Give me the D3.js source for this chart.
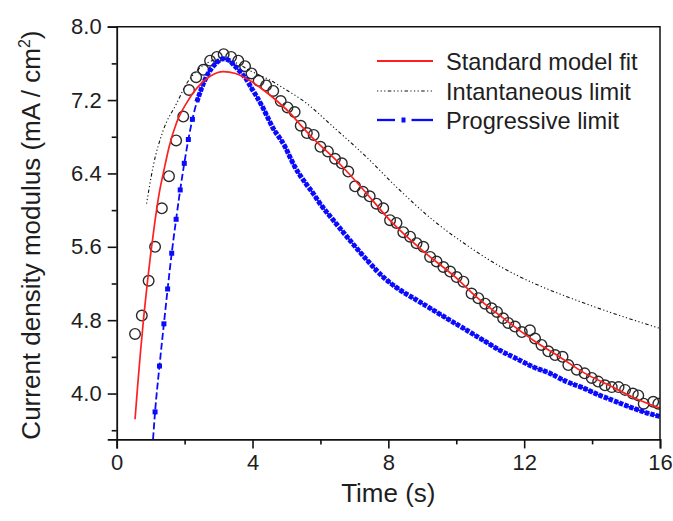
<!DOCTYPE html>
<html><head><meta charset="utf-8">
<script src="https://cdn.jsdelivr.net/npm/d3@7"></script>
<style>
body{margin:0;background:#fff}
svg{display:block}
text{font-family:"Liberation Sans",Arial,sans-serif;fill:#1e1e1e}
</style>
</head><body>
<svg id="c" width="673" height="521"></svg>
<script>
// ---- tick labels ----
const xTicks = [0, 4, 8, 12, 16];
const xMinor = [2, 6, 10, 14];
const yTicks = [4.0, 4.8, 5.6, 6.4, 7.2, 8.0];
const yMinor = [3.6, 4.4, 5.2, 6.0, 6.8, 7.6];

// ---- measured data (open circles) ----
const measT = [0.54,0.74,0.94,1.13,1.33,1.54,1.75,1.96,2.13,2.34,2.55,2.75,2.95,3.15,3.37,3.58,3.78,3.97,4.18,4.40,
  4.61,4.83,5.03,5.24,5.42,5.60,5.80,6.00,6.22,6.43,6.63,6.82,7.02,7.25,7.45,7.65,7.85,8.05,8.24,8.44,
  8.64,8.83,9.03,9.23,9.42,9.62,9.82,10.01,10.21,10.45,10.65,10.85,11.04,11.20,11.38,11.53,11.73,11.93,12.17,12.32,
  12.51,12.71,12.91,13.13,13.30,13.55,13.78,13.99,14.18,14.38,14.58,14.78,14.97,15.20,15.36,15.52,15.80,15.95];
const measV = [4.65,4.85,5.23,5.60,6.02,6.37,6.76,7.02,7.31,7.45,7.53,7.63,7.67,7.70,7.67,7.63,7.57,7.49,7.41,7.36,
  7.30,7.19,7.12,7.07,6.92,6.84,6.82,6.69,6.64,6.56,6.51,6.42,6.26,6.20,6.15,6.07,6.02,5.89,5.86,5.76,
  5.71,5.64,5.60,5.49,5.44,5.38,5.33,5.27,5.22,5.09,5.04,4.98,4.93,4.89,4.82,4.77,4.73,4.67,4.69,4.60,
  4.53,4.46,4.42,4.40,4.31,4.26,4.22,4.17,4.13,4.09,4.07,4.07,4.04,4.00,3.98,3.89,3.91,3.89];

// ---- standard model fit (red) ----
const fitT = [0.54,0.62,0.70,0.80,0.90,1.00,1.12,1.25,1.40,1.55,1.76,2.06,2.36,2.75,3.14,3.50,3.93,4.32,4.72,5.10,
  5.41,5.71,6.50,7.20,8.07,9.00,10.00,10.54,11.50,12.31,13.00,13.79,14.50,15.20,16.00];
const fitV = [3.72,4.10,4.45,4.85,5.20,5.52,5.86,6.18,6.45,6.70,6.95,7.17,7.33,7.46,7.51,7.49,7.41,7.31,7.19,7.06,
  6.93,6.81,6.53,6.25,5.88,5.56,5.26,5.07,4.79,4.57,4.41,4.22,4.09,3.96,3.84];

// ---- instantaneous limit (black dotted) ----
const instT = [0.88,1.07,1.37,1.76,2.06,2.36,2.75,3.10,3.50,3.93,4.50,5.00,5.50,6.40,7.38,8.30,9.35,10.30,11.32,12.30,13.30,14.50,16.00];
const instV = [6.07,6.47,6.87,7.16,7.38,7.52,7.62,7.65,7.61,7.52,7.42,7.31,7.19,6.90,6.57,6.23,5.88,5.62,5.38,5.20,5.05,4.89,4.71];

// ---- progressive limit (blue) ----
const progT = [1.07,1.13,1.26,1.39,1.50,1.62,1.75,1.87,1.99,2.11,2.23,2.36,2.50,2.65,2.80,2.95,3.14,3.32,3.48,3.68,
  3.83,3.97,4.12,4.30,4.46,4.61,4.81,4.96,5.10,5.25,5.40,5.59,5.79,5.99,6.38,6.87,7.36,7.85,8.34,8.83,
  9.32,9.81,10.31,10.80,11.29,11.78,12.27,12.76,13.25,13.74,14.23,14.72,15.21,15.70,16.00];
const progV = [3.50,3.80,4.30,4.76,5.14,5.53,5.90,6.22,6.51,6.77,6.99,7.18,7.33,7.46,7.55,7.61,7.65,7.63,7.57,7.49,
  7.42,7.33,7.24,7.12,7.00,6.89,6.78,6.69,6.58,6.47,6.38,6.28,6.18,6.07,5.89,5.67,5.46,5.27,5.13,5.02,
  4.91,4.80,4.69,4.58,4.47,4.38,4.29,4.22,4.13,4.06,3.98,3.91,3.84,3.78,3.75];

const legendLabels = ["Standard model fit", "Intantaneous limit", "Progressive limit"];
const xTitle = "Time (s)";
const yTitle = "Current density modulus (mA / cm";

// ---- drawing ----
const svg = d3.select("#c");
const L = 116.7, R = 660, T = 26.7, B = 439.4;
const x = d3.scaleLinear().domain([0, 16]).range([L, R]);
const y = d3.scaleLinear().domain([3.5, 8.0]).range([B, T]);

svg.append("defs").append("clipPath").attr("id", "clip")
  .append("rect").attr("x", L).attr("y", T).attr("width", R - L).attr("height", B - T);

const plot = svg.append("g").attr("clip-path", "url(#clip)");
const zip = (a, b) => a.map((t, i) => [t, b[i]]);
const line = d3.line().x(d => x(d[0])).y(d => y(d[1])).curve(d3.curveMonotoneX);

const RED = "#ff1f1f", BLUE = "#0a0aff";
const dotDash = "1.2,2.4,1.2,2.4,1.2,2.4,3.5,2.4";

// circles
plot.append("g").selectAll("circle").data(zip(measT, measV)).join("circle")
  .attr("cx", d => x(d[0])).attr("cy", d => y(d[1])).attr("r", 5.3)
  .attr("fill", "none").attr("stroke", "#2a2a2a").attr("stroke-width", 1.4);

// instantaneous
plot.append("path").datum(zip(instT, instV)).attr("d", line)
  .attr("fill", "none").attr("stroke", "#111").attr("stroke-width", 1.1)
  .attr("stroke-dasharray", dotDash);

// progressive
const prog = zip(progT, progV);
plot.append("path").datum(prog).attr("d", line)
  .attr("fill", "none").attr("stroke", BLUE).attr("stroke-width", 1.8)
  .attr("stroke-dasharray", "7,3");
plot.append("path").datum(prog.filter(d => d[0] >= 2.3)).attr("d", line)
  .attr("fill", "none").attr("stroke", BLUE).attr("stroke-width", 5)
  .attr("stroke-dasharray", "4.2,1.3");
plot.append("g").selectAll("rect").data(prog.filter(d => d[0] > 1.1 && d[0] < 2.3)).join("rect")
  .attr("x", d => x(d[0]) - 2.5).attr("y", d => y(d[1]) - 2.5)
  .attr("width", 5).attr("height", 5).attr("fill", BLUE);

// fit
plot.append("path").datum(zip(fitT, fitV)).attr("d", line)
  .attr("fill", "none").attr("stroke", RED).attr("stroke-width", 1.7);

// axes
const fs = 22;
svg.append("g").attr("transform", `translate(0,${B})`)
  .call(d3.axisBottom(x).tickValues(xTicks).tickFormat(d3.format("d")).tickSize(9).tickPadding(6));
svg.append("g").attr("transform", `translate(0,${B})`)
  .call(d3.axisBottom(x).tickValues(xMinor).tickFormat("").tickSize(5))
  .call(g => g.select(".domain").remove());
svg.append("g").attr("transform", `translate(${L},0)`)
  .call(d3.axisLeft(y).tickValues(yTicks).tickFormat(d3.format(".1f")).tickSize(9).tickPadding(6));
svg.append("g").attr("transform", `translate(${L},0)`)
  .call(d3.axisLeft(y).tickValues(yMinor).tickFormat("").tickSize(5))
  .call(g => g.select(".domain").remove());
svg.selectAll(".tick line").attr("stroke", "#111").attr("stroke-width", 1.6);
svg.selectAll(".domain").attr("stroke", "#111").attr("stroke-width", 1.8);
svg.selectAll(".tick text").attr("font-size", fs).attr("font-family", "Liberation Sans, Arial, sans-serif").attr("fill", "#1e1e1e");

// frame top & right
svg.append("path").attr("d", `M${L},${T}H${R}V${B}`).attr("fill", "none")
  .attr("stroke", "#111").attr("stroke-width", 1.5);

// titles
svg.append("text").attr("x", (L + R) / 2).attr("y", 502).attr("text-anchor", "middle")
  .attr("font-size", 26).text(xTitle);
const yt = svg.append("text").attr("transform", `translate(40,${(T + B) / 2 + 2}) rotate(-90)`)
  .attr("text-anchor", "middle").attr("font-size", 26);
yt.append("tspan").text(yTitle);
yt.append("tspan").attr("font-size", 16).attr("dy", -10).text("2");
yt.append("tspan").attr("dy", 10).text(")");

// legend
const lg = svg.append("g");
const rows = [61, 91, 120];
const lx0 = 377, lx1 = 433;
lg.append("line").attr("x1", lx0).attr("x2", lx1).attr("y1", rows[0]).attr("y2", rows[0])
  .attr("stroke", RED).attr("stroke-width", 2);
lg.append("line").attr("x1", lx0).attr("x2", lx1).attr("y1", rows[1]).attr("y2", rows[1])
  .attr("stroke", "#111").attr("stroke-width", 1.1).attr("stroke-dasharray", dotDash);
lg.append("line").attr("x1", lx0).attr("x2", 395).attr("y1", rows[2]).attr("y2", rows[2])
  .attr("stroke", BLUE).attr("stroke-width", 2.3);
lg.append("rect").attr("x", 401.5).attr("y", rows[2] - 2.5).attr("width", 4).attr("height", 5).attr("fill", BLUE);
lg.append("line").attr("x1", 411.5).attr("x2", lx1).attr("y1", rows[2]).attr("y2", rows[2])
  .attr("stroke", BLUE).attr("stroke-width", 2.3);
lg.selectAll("text").data(legendLabels).join("text")
  .attr("x", 446).attr("y", (d, i) => rows[i] + 8.5).attr("font-size", 23.6).text(d => d);
</script>
</body></html>
